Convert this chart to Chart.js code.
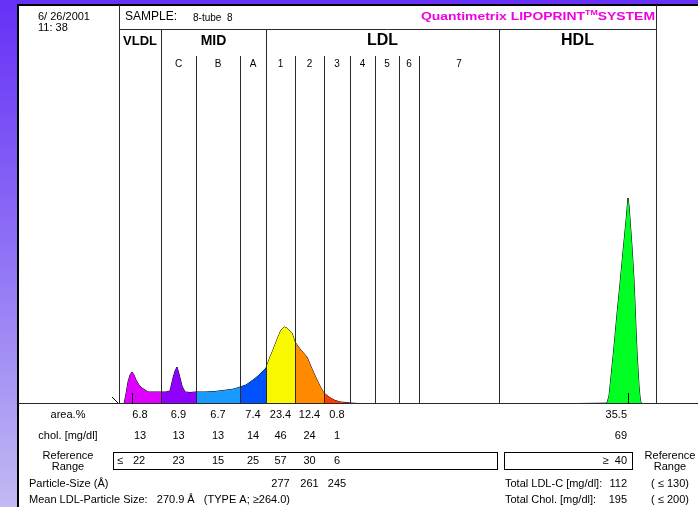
<!DOCTYPE html>
<html>
<head>
<meta charset="utf-8">
<script src="https://cdn.jsdelivr.net/npm/chart.js@4.4.0/dist/chart.umd.min.js"></script>
<style>
  html, body { margin: 0; padding: 0; overflow: hidden; background: #fff; }
  canvas { display: block; }
</style>
</head>
<body>
<canvas id="lipo" width="698" height="507"></canvas>
<script>
// fraction edges along the gel (mobility units, 0 = start of VLDL)
var bandEdges = [0, 42, 77, 121, 147, 176, 205, 231, 256, 280, 300, 380, 537];
var bandColors = ['#dd00ff', '#9000ff', '#1a9aff', '#0052ff', '#f8f800', '#ff8a00', '#ff3a00',
                  null, null, null, null, '#00ff22'];
var groupNames = ['VLDL', 'MID', 'LDL', 'HDL'];
var groupEdges = [0, 42, 147, 380, 537];
var subLabels = ['C', 'B', 'A', '1', '2', '3', '4', '5', '6', '7']; // bands 1..10

// densitometer profile
var profX = [0, 5, 7, 9, 11, 13, 15, 17, 20, 23, 26, 29, 35, 42, 47, 51, 54, 56, 58, 60, 63, 66, 71,
             77, 86, 96, 108, 115, 121, 127, 134, 139, 144, 147, 151, 154, 159, 162, 165, 168, 173, 176,
             181, 188, 193, 198, 202, 205, 210, 215, 221, 227, 231, 239, 246, 380, 459, 486, 488, 490,
             492, 495, 498, 501, 504, 507, 509, 510, 511, 513, 515, 516, 517, 518, 519, 520, 521, 522,
             524, 537];
var profY = [0, 0, 10, 22, 29, 32, 29, 24, 19, 16, 14, 12, 12, 12, 12, 13, 26, 33, 37, 30, 18, 12, 11.5,
             12, 12, 12.5, 14, 15, 17, 19, 24, 28, 33, 36, 47, 54, 67, 74, 77, 76, 71, 62,
             55, 47, 35, 24, 16, 11, 7, 4, 2, 1.5, 1, 0.5, 0, 0, 0.5, 0.8, 1, 8,
             27, 57, 90, 120, 152, 183, 206, 198, 185, 157, 124, 100, 75, 52, 35, 18, 7, 1,
             0, 0];
var peakMarks = [12.5, 509];

// table values
var areaPct = [6.8, 6.9, 6.7, 7.4, 23.4, 12.4, 0.8];
var cholMg = [13, 13, 13, 14, 46, 24, 1];
var refRange = [22, 23, 15, 25, 57, 30, 6];
var particleSize = [277, 261, 245]; // LDL 1..3
var hdlArea = 35.5, hdlChol = 69, hdlRef = 40;
var meanSize = 270.9, totalLdl = 112, totalChol = 195, ldlLimit = 130, cholLimit = 200;

var datasets = [];
for (var b = 0; b < bandColors.length; b++) {
    if (!bandColors[b]) continue;
    var pts = [];
    for (var i = 0; i < profX.length; i++) {
        if (profX[i] >= bandEdges[b] && profX[i] <= bandEdges[b + 1]) pts.push({x: profX[i], y: profY[i]});
    }
    datasets.push({data: pts, backgroundColor: bandColors[b], borderWidth: 0, fill: 'origin',
                   pointRadius: 0, tension: 0});
}
// outline on top
datasets.push({data: profX.map(function (x, i) { return {x: x, y: profY[i]}; }),
               borderColor: '#000', borderWidth: 1, fill: false, pointRadius: 0, tension: 0});

var FONT = '"Liberation Sans", Arial, sans-serif';

function txt(ctx, s, x, y, font, align, color) {
    ctx.font = font;
    ctx.textAlign = align || 'center';
    ctx.textBaseline = 'middle';
    ctx.fillStyle = color || '#000';
    ctx.fillText(s, x, y);
}
function vline(ctx, x, y0, y1) {
    x = Math.round(x) + 0.5;
    ctx.beginPath(); ctx.moveTo(x, y0); ctx.lineTo(x, y1); ctx.stroke();
}
function hline(ctx, y, x0, x1) {
    y = Math.round(y) + 0.5;
    ctx.beginPath(); ctx.moveTo(x0, y); ctx.lineTo(x1, y); ctx.stroke();
}

var frame = {
    id: 'frame',
    beforeDraw: function (chart) {
        var ctx = chart.ctx, W = chart.width, H = chart.height;
        var g = ctx.createLinearGradient(0, 0, 0, H);
        g.addColorStop(0, '#6630f6');
        g.addColorStop(0.5, '#8f72f6');
        g.addColorStop(1, '#c2baf2');
        ctx.fillStyle = g;
        ctx.fillRect(0, 0, W, H);
        ctx.fillStyle = '#fff';
        ctx.fillRect(18, 5, W - 18, H - 5);
        ctx.strokeStyle = '#000';
        ctx.lineWidth = 2;
        ctx.beginPath(); ctx.moveTo(18, H); ctx.lineTo(18, 5); ctx.lineTo(W, 5); ctx.stroke();
    },
    afterDatasetsDraw: function (chart) {
        var ctx = chart.ctx, a = chart.chartArea, xs = chart.scales.x, ys = chart.scales.y;
        var W = chart.width;
        var xp = function (v) { return xs.getPixelForValue(v); };
        var mid = function (i) { return (xp(bandEdges[i]) + xp(bandEdges[i + 1])) / 2; };
        ctx.save();
        ctx.strokeStyle = '#2a2a2a';
        ctx.lineWidth = 1;
        var base = Math.round(a.bottom);
        vline(ctx, a.left, 5, base);
        vline(ctx, a.right, 5, base);
        hline(ctx, a.top - 1, a.left, a.right);
        hline(ctx, base - 1, 18, W);
        for (var i = 1; i < groupEdges.length - 1; i++) vline(ctx, xp(groupEdges[i]), a.top, base);
        for (i = 2; i < bandEdges.length - 1; i++) {
            if (groupEdges.indexOf(bandEdges[i]) < 0) vline(ctx, xp(bandEdges[i]), 56, base);
        }
        // peak marks
        ctx.strokeStyle = '#000';
        peakMarks.forEach(function (m) { vline(ctx, xp(m), base - 11, base); });
        ctx.beginPath(); ctx.moveTo(112, 397); ctx.lineTo(118, 403); ctx.stroke();

        // header
        txt(ctx, '6/ 26/2001', 38, 17, '11px ' + FONT, 'left');
        txt(ctx, '11: 38', 38, 28, '11px ' + FONT, 'left');
        txt(ctx, 'SAMPLE:', 125, 17, '12px ' + FONT, 'left');
        txt(ctx, '8-tube  8', 193, 18, '10px ' + FONT, 'left');
        // title, stretched to its box
        var p1 = 'Quantimetrix LIPOPRINT', p2 = 'TM', p3 = 'SYSTEM';
        ctx.font = 'bold 11px ' + FONT; var w1 = ctx.measureText(p1).width, w3 = ctx.measureText(p3).width;
        ctx.font = 'bold 7px ' + FONT; var w2 = ctx.measureText(p2).width;
        var tot = w1 + w2 + w3, target = 234;
        ctx.save();
        ctx.translate(421, 0);
        ctx.scale(target / tot, 1);
        txt(ctx, p1, 0, 17, 'bold 11px ' + FONT, 'left', '#f000e0');
        txt(ctx, p2, w1, 13, 'bold 7px ' + FONT, 'left', '#f000e0');
        txt(ctx, p3, w1 + w2, 17, 'bold 11px ' + FONT, 'left', '#f000e0');
        ctx.restore();

        // group and band labels
        var gFonts = ['bold 13px ', 'bold 14px ', 'bold 16px ', 'bold 16px '];
        for (i = 0; i < groupNames.length; i++) {
            txt(ctx, groupNames[i], (xp(groupEdges[i]) + xp(groupEdges[i + 1])) / 2, 41, gFonts[i] + FONT);
        }
        for (i = 0; i < subLabels.length; i++) txt(ctx, subLabels[i], mid(i + 1), 64, '10px ' + FONT);

        // table
        var f = '11px ' + FONT;
        var hdlX = 627;
        txt(ctx, 'area.%', 68, 415, f);
        txt(ctx, 'chol. [mg/dl]', 68, 436, f);
        txt(ctx, 'Reference', 68, 456, f);
        txt(ctx, 'Range', 68, 467, f);
        for (i = 0; i < areaPct.length; i++) {
            txt(ctx, areaPct[i].toFixed(1), mid(i), 415, f);
            txt(ctx, String(cholMg[i]), mid(i), 436, f);
            txt(ctx, String(refRange[i]), i === 0 ? mid(i) - 1 : mid(i), 461, f);
        }
        txt(ctx, '\u2264', 117, 461, f, 'left');
        txt(ctx, hdlArea.toFixed(1), hdlX, 415, f, 'right');
        txt(ctx, String(hdlChol), hdlX, 436, f, 'right');
        ctx.strokeStyle = '#000';
        ctx.lineWidth = 1;
        ctx.strokeRect(113.5, 452.5, 384, 17);
        ctx.strokeRect(504.5, 452.5, 128, 17);
        txt(ctx, '\u2265  ' + hdlRef, hdlX, 461, f, 'right');
        txt(ctx, 'Reference', 670, 456, f);
        txt(ctx, 'Range', 670, 467, f);

        txt(ctx, 'Particle-Size (\u00c5)', 29, 484, f, 'left');
        for (i = 0; i < particleSize.length; i++) txt(ctx, String(particleSize[i]), mid(i + 4), 484, f);
        txt(ctx, 'Mean LDL-Particle Size:   ' + meanSize.toFixed(1) + ' \u00c5   (TYPE A; \u2265264.0)', 29, 500, f, 'left');
        txt(ctx, 'Total LDL-C [mg/dl]:', 505, 484, f, 'left');
        txt(ctx, String(totalLdl), hdlX, 484, f, 'right');
        txt(ctx, 'Total Chol. [mg/dl]:', 505, 500, f, 'left');
        txt(ctx, String(totalChol), hdlX, 500, f, 'right');
        txt(ctx, '( \u2264 ' + ldlLimit + ')', 670, 484, f);
        txt(ctx, '( \u2264 ' + cholLimit + ')', 670, 500, f);
        ctx.restore();
    }
};

var chart = new Chart(document.getElementById('lipo').getContext('2d'), {
    type: 'line',
    data: {datasets: datasets},
    options: {
        responsive: false,
        animation: false,
        layout: {padding: {left: 119, right: 42, top: 30, bottom: 103}},
        scales: {
            x: {type: 'linear', min: 0, max: 537, display: false},
            y: {min: 0, max: 374, display: false}
        },
        plugins: {legend: {display: false}, tooltip: {enabled: false}}
    },
    plugins: [frame]
});
</script>
</body>
</html>
